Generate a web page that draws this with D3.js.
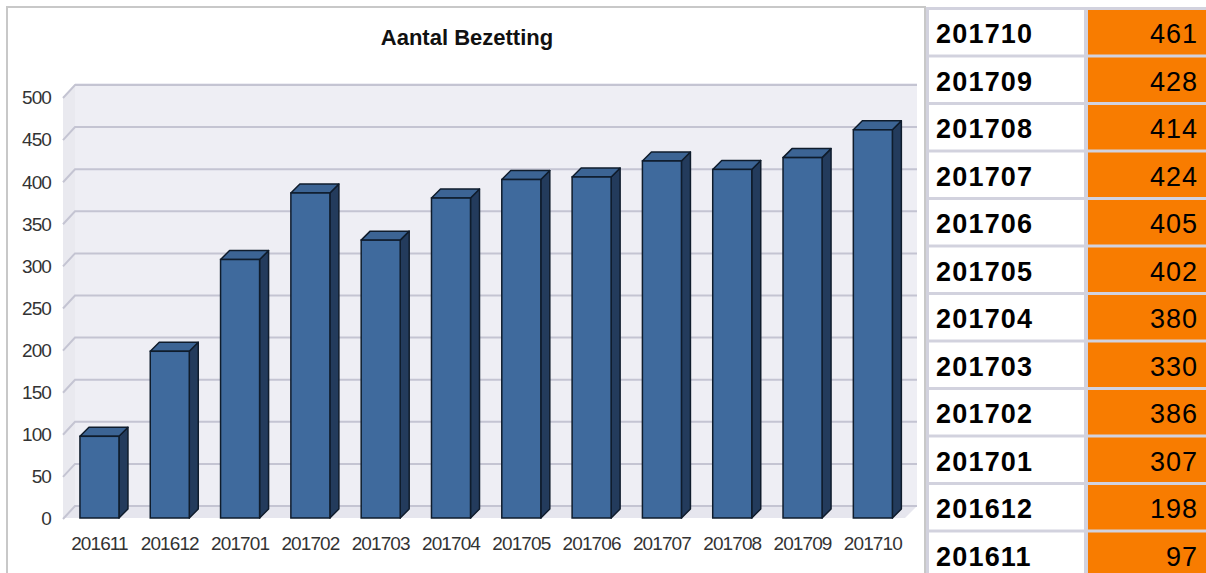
<!DOCTYPE html>
<html lang="en">
<head>
<meta charset="utf-8">
<title>Aantal Bezetting</title>
<script src="https://d3js.org/d3.v7.min.js"></script>
<style>
  body { margin:0; background:#fff; }
  svg text { font-family: "Liberation Sans", Arial, sans-serif; }
</style>
</head>
<body>
<svg id="chart" width="1206" height="573"></svg>
<script>
// data
var months = ["201611","201612","201701","201702","201703","201704","201705","201706","201707","201708","201709","201710"];
var counts = [97,198,307,386,330,380,402,405,424,414,428,461];
var yTicks = [0,50,100,150,200,250,300,350,400,450,500];
var title = "Aantal Bezetting";

var W = 1206, H = 573;
var svg = d3.select("#chart");

// chart panel
svg.append("rect").attr("x",7).attr("y",7).attr("width",918).attr("height",H)
  .attr("fill","#fff").attr("stroke","#c8c8c8").attr("stroke-width",2);

var x = d3.scaleBand().domain(months).range([64.3,908]).paddingInner(0.445).paddingOuter(0.2225);
var y = d3.scaleLinear().domain([0,500]).range([518,97]);

var wallDx = 12, wallDy = 12;   // back wall depth
var barDx = 9, barDy = 9;       // bar depth
var wallLeft = 63, wallRight = 917;

// back wall + side wall + floor
svg.append("rect").attr("x",wallLeft+wallDx).attr("y",y(500)-wallDy-2)
  .attr("width",wallRight-wallLeft-wallDx).attr("height",y(0)-y(500)+2)
  .attr("fill","#eeeef4");
svg.append("polygon")
  .attr("points",[[wallLeft,y(500)],[wallLeft+wallDx,y(500)-wallDy],[wallLeft+wallDx,y(0)-wallDy],[wallLeft,y(0)]].join(" "))
  .attr("fill","#e9e9ef");
svg.append("polygon")
  .attr("points",[[wallLeft,y(0)],[wallLeft+wallDx,y(0)-wallDy],[wallRight,y(0)-wallDy],[wallRight-wallDx,y(0)]].join(" "))
  .attr("fill","#e6e6ee");

// gridlines
var grid = svg.append("g");
grid.selectAll("polyline").data(yTicks).enter().append("polyline")
  .attr("points",d=>[[wallLeft,y(d)+1],[wallLeft+wallDx,y(d)-wallDy],[wallRight,y(d)-wallDy]].join(" "))
  .attr("fill","none").attr("stroke","#c4c4d2").attr("stroke-width",2);

// y axis labels
var yAxis = d3.axisLeft(y).tickValues(yTicks).tickSize(0).tickPadding(0);
var ga = svg.append("g").attr("transform","translate(51,0)").call(yAxis);
ga.select(".domain").remove();
ga.selectAll("text").attr("font-size","19px").attr("letter-spacing","-0.9px").attr("fill","#333")
  .attr("font-family","'Liberation Sans', Arial, sans-serif").attr("dy","0.36em");

// bars
var bars = svg.append("g").selectAll("g").data(counts).enter().append("g");
var bw = x.bandwidth();
var outline = "#0f1c2c";
bars.append("polygon")
  .attr("points",(d,i)=>{var x0=x(months[i])+bw, yt=y(d), yb=y(0);
    return [[x0,yt],[x0+barDx,yt-barDy],[x0+barDx,yb-barDy],[x0,yb]].join(" ");})
  .attr("fill","#233b5c").attr("stroke",outline).attr("stroke-width",1.5).attr("stroke-linejoin","round");
bars.append("polygon")
  .attr("points",(d,i)=>{var x0=x(months[i]), yt=y(d);
    return [[x0,yt],[x0+barDx,yt-barDy],[x0+bw+barDx,yt-barDy],[x0+bw,yt]].join(" ");})
  .attr("fill","#3c6494").attr("stroke",outline).attr("stroke-width",1.5).attr("stroke-linejoin","round");
bars.append("rect")
  .attr("x",(d,i)=>x(months[i])).attr("y",d=>y(d))
  .attr("width",bw).attr("height",d=>y(0)-y(d))
  .attr("fill","#3f6a9d").attr("stroke",outline).attr("stroke-width",1.5);

// x axis labels
var xAxis = d3.axisBottom(x).tickSize(0).tickPadding(0);
var gx = svg.append("g").attr("transform","translate(0,536)").call(xAxis);
gx.select(".domain").remove();
gx.selectAll("text").attr("font-size","19px").attr("letter-spacing","-0.9px").attr("fill","#333")
  .attr("font-family","'Liberation Sans', Arial, sans-serif").attr("dy","0.72em");

// title
svg.append("text").attr("x",467).attr("y",45).attr("text-anchor","middle")
  .attr("font-size","22px").attr("font-weight","bold").attr("fill","#111").text(title);

// table on the right
var rowTop = 10, rowPitch = 47.5, gap = 3;
var rows = months.map((m,i)=>({m:m,v:counts[i]})).reverse();
svg.append("rect").attr("x",926).attr("y",0).attr("width",W-926).attr("height",H).attr("fill","#d2d2de");
var tr = svg.append("g").selectAll("g").data(rows).enter().append("g")
  .attr("transform",(d,i)=>"translate(0,"+(rowTop+i*rowPitch)+")");
tr.append("rect").attr("x",929).attr("y",0).attr("width",155).attr("height",rowPitch-gap).attr("fill","#fff");
tr.append("rect").attr("x",1088).attr("y",0).attr("width",W-1088).attr("height",rowPitch-gap).attr("fill","#f87c00");
tr.append("text").attr("x",936).attr("y",33).attr("font-size","27px").attr("font-weight","bold")
  .attr("letter-spacing","1.2px").attr("fill","#000").text(d=>d.m);
tr.append("text").attr("x",1198).attr("y",33).attr("text-anchor","end").attr("font-size","27px")
  .attr("letter-spacing","1px").attr("fill","#000").text(d=>d.v);
// top strip above first row is white
svg.append("rect").attr("x",926).attr("y",0).attr("width",W-926).attr("height",7).attr("fill","#fff");
</script>
</body>
</html>
